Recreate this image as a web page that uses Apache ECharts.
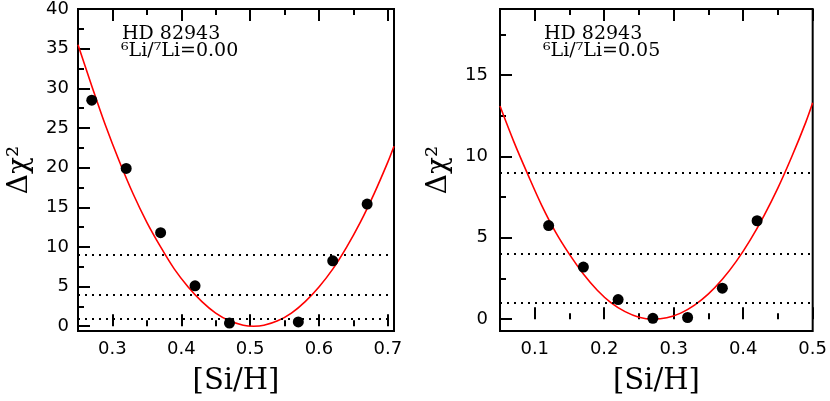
<!DOCTYPE html>
<html>
<head>
<meta charset="utf-8">
<script src="https://cdn.jsdelivr.net/npm/echarts@6/dist/echarts.min.js"></script>
<style>html,body{margin:0;padding:0;background:#fff}#c{width:830px;height:401px}</style>
</head>
<body>
<div id="c"></div>
<script>
// ---- data ----
const leftPtsX = [0.27, 0.32, 0.37, 0.42, 0.47, 0.57, 0.62, 0.67];
const leftPtsY = [28.5, 19.9, 11.8, 5.1, 0.4, 0.55, 8.25, 15.4];
const leftCurveX = [0.25, 0.27, 0.29, 0.31, 0.33, 0.35, 0.37, 0.39, 0.41, 0.43, 0.45, 0.47, 0.49, 0.505, 0.52, 0.54, 0.56, 0.58, 0.60, 0.62, 0.64, 0.66, 0.68, 0.70, 0.709];
const leftCurveY = [35.5, 30.3, 25.3, 20.8, 16.7, 13.1, 10.0, 7.2, 4.95, 3.1, 1.65, 0.68, 0.13, 0.0, 0.12, 0.68, 1.65, 3.1, 4.95, 7.2, 9.95, 13.1, 16.7, 20.7, 22.7];
const rightPtsX = [0.12, 0.17, 0.22, 0.27, 0.32, 0.37, 0.42];
const rightPtsY = [5.75, 3.2, 1.2, 0.05, 0.1, 1.9, 6.05];
const rightCurveX = [0.05, 0.07, 0.09, 0.11, 0.13, 0.15, 0.17, 0.19, 0.21, 0.23, 0.25, 0.27, 0.29, 0.31, 0.33, 0.35, 0.37, 0.39, 0.41, 0.43, 0.45, 0.47, 0.49, 0.50];
const rightCurveY = [13.1, 10.9, 8.9, 7.0, 5.35, 3.98, 2.78, 1.78, 1.0, 0.46, 0.12, 0.0, 0.08, 0.37, 0.86, 1.55, 2.45, 3.55, 4.86, 6.37, 8.07, 10.0, 12.1, 13.3];
const hLines = [1, 4, 9];
const leftYMajor = [0, 5, 10, 15, 20, 25, 30, 35, 40];
const leftYMinor = [2.5, 7.5, 12.5, 17.5, 22.5, 27.5, 32.5, 37.5];
const leftXMajor = [0.3, 0.4, 0.5, 0.6, 0.7];
const leftXMinor = [0.35, 0.45, 0.55, 0.65];
const rightYMajor = [0, 5, 10, 15];
const rightYMinor = [2.5, 7.5, 12.5, 17.5];
const rightXMajor = [0.1, 0.2, 0.3, 0.4, 0.5];
const rightXMinor = [0.15, 0.25, 0.35, 0.45];
const starName = 'HD 82943';
const ratioLabels = ['\u2076Li/\u2077Li=0.00', '\u2076Li/\u2077Li=0.05'];
const xName = '[Si/H]';
const yName = '\u0394\u03c7\u00b2';

const labelFont = {fontFamily: 'DejaVu Sans', fontSize: 18, color: '#000'};
const tickStyle = {color: '#000', width: 2};

function zip(a, b) { return a.map((v, i) => [v, b[i]]); }

function xAxes(grid, min, max, major, minor) {
  const base = {type: 'value', gridIndex: grid, min: min, max: max, splitLine: {show: false}, axisLine: {show: false}};
  return [
    Object.assign({}, base, {position: 'bottom', name: xName, nameLocation: 'middle', nameGap: 36,
      nameTextStyle: {fontFamily: 'DejaVu Serif', fontSize: 29, color: '#000'},
      axisTick: {inside: true, length: 12, customValues: major, lineStyle: tickStyle},
      axisLabel: Object.assign({customValues: major, margin: 9}, labelFont)}),
    Object.assign({}, base, {position: 'bottom', axisTick: {inside: true, length: 6, customValues: minor, lineStyle: tickStyle}, axisLabel: {show: false}}),
    Object.assign({}, base, {position: 'top', axisTick: {inside: true, length: 12, customValues: major, lineStyle: tickStyle}, axisLabel: {show: false}}),
    Object.assign({}, base, {position: 'top', axisTick: {inside: true, length: 6, customValues: minor, lineStyle: tickStyle}, axisLabel: {show: false}})
  ];
}
function yAxes(grid, min, max, major, minor, margin, gap) {
  const base = {type: 'value', gridIndex: grid, min: min, max: max, splitLine: {show: false}, axisLine: {show: false}};
  return [
    Object.assign({}, base, {position: 'left', name: yName, nameLocation: 'middle', nameGap: gap, nameRotate: 90,
      nameTextStyle: {fontFamily: 'DejaVu Serif', fontSize: 28, color: '#000'},
      axisTick: {inside: true, length: 12, customValues: major, lineStyle: tickStyle},
      axisLabel: Object.assign({customValues: major, margin: margin}, labelFont)}),
    Object.assign({}, base, {position: 'left', axisTick: {inside: true, length: 6, customValues: minor, lineStyle: tickStyle}, axisLabel: {show: false}})
  ];
}

function panelSeries(xi, yi, cx, cy, px, py) {
  return [
    {type: 'line', xAxisIndex: xi, yAxisIndex: yi, data: zip(cx, cy), smooth: 0.35, showSymbol: false,
      lineStyle: {color: '#ff0000', width: 1.6}, z: 3,
      markLine: {silent: true, symbol: ['none', 'none'], label: {show: false},
        lineStyle: {color: '#000', type: [2, 5], width: 1.8}, emphasis: {disabled: true},
        data: hLines.map(v => ({yAxis: v}))}},
    {type: 'scatter', xAxisIndex: xi, yAxisIndex: yi, data: zip(px, py), symbolSize: 11,
      itemStyle: {color: '#000', opacity: 1}, z: 4}
  ];
}

const chart = echarts.init(document.getElementById('c'), null, {renderer: 'canvas'});
chart.setOption({
  animation: false,
  backgroundColor: '#fff',
  grid: [
    {left: 78, top: 9, width: 316, height: 324, show: true, borderColor: '#000', borderWidth: 2, backgroundColor: 'transparent'},
    {left: 500, top: 9, width: 315.5, height: 324, show: true, borderColor: '#000', borderWidth: 2, backgroundColor: 'transparent'}
  ],
  xAxis: xAxes(0, 0.25, 0.709, leftXMajor, leftXMinor).concat(xAxes(1, 0.05, 0.5, rightXMajor, rightXMinor)),
  yAxis: yAxes(0, -0.6, 40, leftYMajor, leftYMinor, 9, 44).concat(yAxes(1, -0.73, 19.07, rightYMajor, rightYMinor, 12, 47)),
  series: panelSeries(0, 0, leftCurveX, leftCurveY, leftPtsX, leftPtsY)
    .concat(panelSeries(4, 2, rightCurveX, rightCurveY, rightPtsX, rightPtsY)),
  graphic: [
    {type: 'text', left: 122, top: 25, style: {text: starName, font: '19px "DejaVu Serif"', fill: '#000'}},
    {type: 'text', left: 121, top: 42, style: {text: ratioLabels[0], font: '19px "DejaVu Serif"', fill: '#000'}},
    {type: 'text', left: 544, top: 25, style: {text: starName, font: '19px "DejaVu Serif"', fill: '#000'}},
    {type: 'text', left: 543, top: 42, style: {text: ratioLabels[1], font: '19px "DejaVu Serif"', fill: '#000'}}
  ]
});
</script>
</body>
</html>
